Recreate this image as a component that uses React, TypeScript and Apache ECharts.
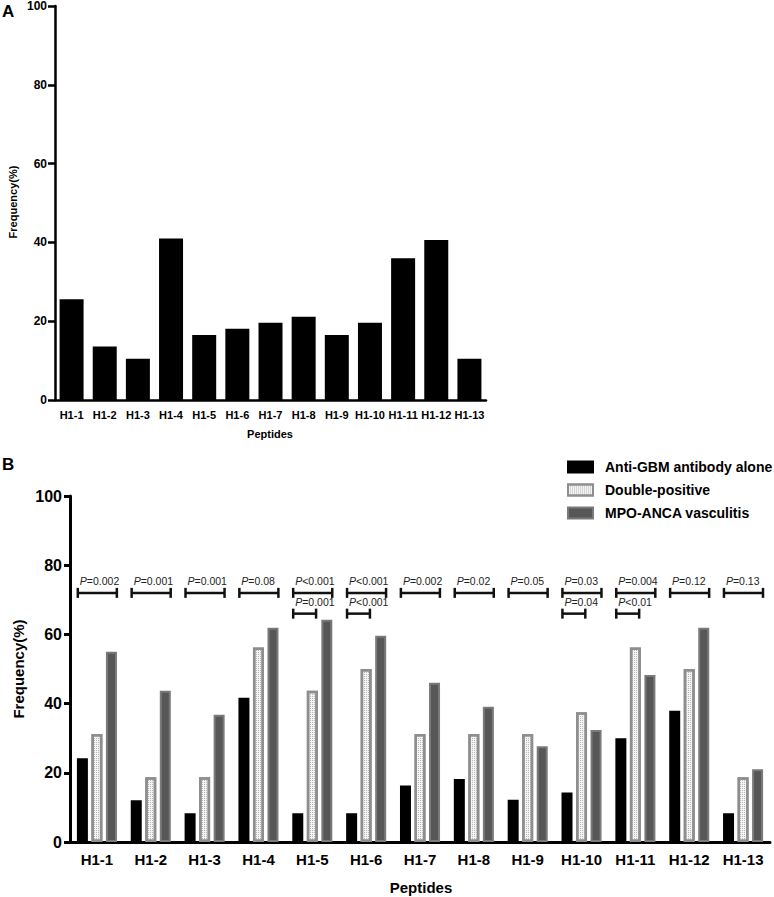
import React, { useEffect, useRef } from "react";
import * as echarts from "echarts";

const categories = ["H1-1", "H1-2", "H1-3", "H1-4", "H1-5", "H1-6", "H1-7", "H1-8", "H1-9", "H1-10", "H1-11", "H1-12", "H1-13"];
const panelAValues = [25.6, 13.6, 10.5, 41.0, 16.5, 18.1, 19.6, 21.1, 16.5, 19.6, 36.0, 40.6, 10.5];
const antiGBM = [24.2, 12.1, 8.3, 41.7, 8.3, 8.3, 16.3, 18.2, 12.2, 14.3, 30.0, 37.9, 8.3];
const doublePositive = [31.25, 18.75, 18.75, 56.25, 43.75, 50, 31.25, 31.25, 31.25, 37.5, 56.25, 50, 18.75];
const mpoAnca = [55.0, 43.7, 36.8, 61.9, 64.2, 59.6, 46.0, 39.1, 27.7, 32.4, 48.3, 61.9, 21.0];
const seriesNames = ["Anti-GBM antibody alone", "Double-positive", "MPO-ANCA vasculitis"];
const yTicks = [0, 20, 40, 60, 80, 100];
const pTop = ["=0.002", "=0.001", "=0.001", "=0.08", "<0.001", "<0.001", "=0.002", "=0.02", "=0.05", "=0.03", "=0.004", "=0.12", "=0.13"];
const pSecondCats = ["H1-5", "H1-6", "H1-10", "H1-11"];
const pSecond = ["=0.001", "<0.001", "=0.04", "<0.01"];

const FONT = "'Liberation Sans', Arial, Helvetica, sans-serif";
const TOP_BRACKET_Y = 72;
const SECOND_BRACKET_Y = 66;

function bracketRenderer(labels: string[], f0: number, f1: number) {
  return (params: any, api: any) => {
    const c = api.coord([api.value(0), api.value(1)]);
    const bw = api.size([1, 0])[0];
    const x0 = c[0] + f0 * bw;
    const x1 = c[0] + f1 * bw;
    const y = c[1];
    const ls = { stroke: "#111", lineWidth: 2.5 };
    return {
      type: "group",
      children: [
        { type: "line", shape: { x1: x0, y1: y, x2: x1, y2: y }, style: ls },
        { type: "line", shape: { x1: x0, y1: y - 5, x2: x0, y2: y + 5 }, style: ls },
        { type: "line", shape: { x1: x1, y1: y - 5, x2: x1, y2: y + 5 }, style: ls },
        {
          type: "text",
          x: x0 + 2,
          y: y - 6,
          style: {
            text: "{i|P}" + labels[params.dataIndex],
            rich: { i: { fontStyle: "italic", fontSize: 10.5, fontFamily: FONT, fill: "#222" } },
            fontSize: 10.5,
            fontFamily: FONT,
            fill: "#222",
            align: "left",
            verticalAlign: "bottom",
          },
        },
      ],
    };
  };
}

export default function App() {
  const ref = useRef<HTMLDivElement>(null);
  useEffect(() => {
    if (!ref.current) return;
    const chart = echarts.init(ref.current, undefined, { renderer: "svg" });
    const axisLabelY = (size: number) => ({ fontSize: size, fontWeight: "bold", color: "#000", fontFamily: FONT, margin: 8 });
    const option: any = {
      animation: false,
      backgroundColor: "#fff",
      grid: [
        { left: 55, top: 5, width: 431, height: 395 },
        { left: 70, top: 496, width: 700, height: 346 },
      ],
      xAxis: [
        {
          gridIndex: 0,
          type: "category",
          data: categories,
          boundaryGap: true,
          axisLine: { lineStyle: { color: "#000", width: 2.5 } },
          axisTick: { alignWithLabel: true, length: 6, lineStyle: { color: "#000", width: 2.5 } },
          axisLabel: { fontSize: 11, fontWeight: "bold", color: "#000", fontFamily: FONT, margin: 9, interval: 0 },
        },
        {
          gridIndex: 1,
          type: "category",
          data: categories,
          boundaryGap: true,
          axisLine: { lineStyle: { color: "#000", width: 3 } },
          axisTick: { alignWithLabel: true, length: 6, lineStyle: { color: "#000", width: 3 } },
          axisLabel: { fontSize: 15, fontWeight: "bold", color: "#000", fontFamily: FONT, margin: 10, interval: 0 },
        },
      ],
      yAxis: [
        {
          gridIndex: 0,
          type: "value",
          min: yTicks[0],
          max: yTicks[yTicks.length - 1],
          interval: 20,
          axisLine: { show: true, lineStyle: { color: "#000", width: 2.5 } },
          axisTick: { show: true, length: 7, lineStyle: { color: "#000", width: 2.5 } },
          splitLine: { show: false },
          axisLabel: axisLabelY(12),
        },
        {
          gridIndex: 1,
          type: "value",
          min: yTicks[0],
          max: yTicks[yTicks.length - 1],
          interval: 20,
          axisLine: { show: true, lineStyle: { color: "#000", width: 3 } },
          axisTick: { show: true, length: 6, lineStyle: { color: "#000", width: 3 } },
          splitLine: { show: false },
          axisLabel: axisLabelY(16),
        },
      ],
      legend: {
        data: seriesNames,
        orient: "vertical",
        left: 562,
        top: 455,
        itemWidth: 25,
        itemHeight: 11,
        itemGap: 9,
        icon: "rect",
        textStyle: { fontSize: 14, fontWeight: "bold", color: "#000", fontFamily: FONT, padding: [0, 0, 0, 7] },
      },
      series: [
        {
          name: "Panel A",
          type: "bar",
          xAxisIndex: 0,
          yAxisIndex: 0,
          data: panelAValues,
          barWidth: 24,
          itemStyle: { color: "#000" },
        },
        {
          name: seriesNames[0],
          type: "bar",
          xAxisIndex: 1,
          yAxisIndex: 1,
          data: antiGBM,
          barWidth: 11,
          barGap: "32%",
          itemStyle: { color: "#000", borderColor: "#000", borderWidth: 2 },
        },
        {
          name: seriesNames[1],
          type: "bar",
          xAxisIndex: 1,
          yAxisIndex: 1,
          data: doublePositive,
          barWidth: 11,
          barGap: "32%",
          itemStyle: {
            color: "#f4f4f4",
            borderColor: "#8e8e8e",
            borderWidth: 2.5,
            decal: {
              symbol: "rect",
              symbolSize: 1,
              color: "#b8b8b8",
              dashArrayX: [1, 1],
              dashArrayY: [1, 1],
              rotation: 0,
            },
          },
        },
        {
          name: seriesNames[2],
          type: "bar",
          xAxisIndex: 1,
          yAxisIndex: 1,
          data: mpoAnca,
          barWidth: 11,
          barGap: "32%",
          itemStyle: { color: "#575757", borderColor: "#7a7a7a", borderWidth: 2 },
        },
        {
          name: "P top",
          type: "custom",
          xAxisIndex: 1,
          yAxisIndex: 1,
          clip: false,
          silent: true,
          data: categories.map((_, i) => [i, TOP_BRACKET_Y]),
          renderItem: bracketRenderer(pTop, -0.355, 0.37),
        },
        {
          name: "P second",
          type: "custom",
          xAxisIndex: 1,
          yAxisIndex: 1,
          clip: false,
          silent: true,
          data: pSecondCats.map((c) => [categories.indexOf(c), SECOND_BRACKET_Y]),
          renderItem: bracketRenderer(pSecond, -0.355, 0.07),
        },
      ],
      graphic: [
        { type: "text", left: 2, top: 3, style: { text: "A", fontSize: 17, fontWeight: "bold", fontFamily: FONT, fill: "#000" } },
        { type: "text", left: 2, top: 456, style: { text: "B", fontSize: 17, fontWeight: "bold", fontFamily: FONT, fill: "#000" } },
        {
          type: "text",
          x: 13,
          y: 202,
          rotation: Math.PI / 2,
          style: { text: "Frequency(%)", fontSize: 11, fontWeight: "bold", fontFamily: FONT, fill: "#000", align: "center", verticalAlign: "middle" },
        },
        {
          type: "text",
          x: 270,
          y: 434,
          style: { text: "Peptides", fontSize: 11, fontWeight: "bold", fontFamily: FONT, fill: "#000", align: "center", verticalAlign: "middle" },
        },
        {
          type: "text",
          x: 18,
          y: 669,
          rotation: Math.PI / 2,
          style: { text: "Frequency(%)", fontSize: 15, fontWeight: "bold", fontFamily: FONT, fill: "#000", align: "center", verticalAlign: "middle" },
        },
        {
          type: "text",
          x: 421,
          y: 887,
          style: { text: "Peptides", fontSize: 15, fontWeight: "bold", fontFamily: FONT, fill: "#000", align: "center", verticalAlign: "middle" },
        },
      ],
    };
    chart.setOption(option);
    return () => chart.dispose();
  }, []);
  return <div ref={ref} style={{ position: "absolute", left: 0, top: 0, width: 774, height: 897 }} />;
}
